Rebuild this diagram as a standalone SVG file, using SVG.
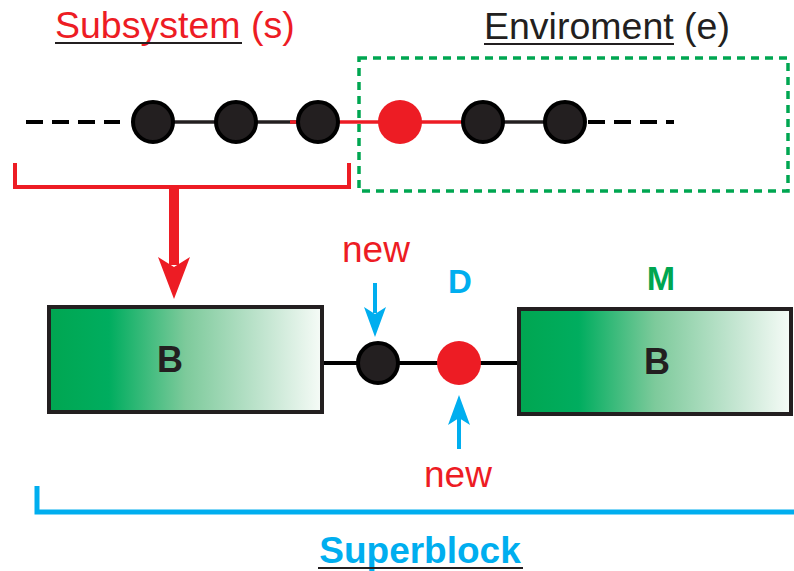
<svg xmlns="http://www.w3.org/2000/svg" width="794" height="571" viewBox="0 0 794 571">
<style>
.t{font-family:"Liberation Sans",Arial,sans-serif}
.b{font-weight:bold}
.red{fill:#ed1c24}
.dk{fill:#231f20}
.cy{fill:#00aeef}
.gr{fill:#00a651}
.node{fill:#231f20;stroke:#000;stroke-width:4}
.rnode{fill:#ed1c24}
.blk{stroke:#231f20;stroke-width:4}
</style>
<defs>
<linearGradient id="g" x1="0" y1="0" x2="1" y2="0">
<stop offset="0" stop-color="#00a651"/>
<stop offset="0.22" stop-color="#00ad5f"/>
<stop offset="0.5" stop-color="#7dca9b"/>
<stop offset="0.8" stop-color="#c5e6d2"/>
<stop offset="1" stop-color="#f6fbf7"/>
</linearGradient>
</defs>
<g id="labels">
<text class="t red" x="55" y="38" font-size="37.5">Subsystem (s)</text>
<line x1="55" y1="43" x2="242" y2="43" stroke="#231f20" stroke-width="2"/>
<text class="t dk" x="484" y="39" font-size="37.5">Enviroment (e)</text>
<line x1="484" y1="44" x2="674" y2="44" stroke="#231f20" stroke-width="2"/>
</g>
<g id="connectors" fill="none">
<line x1="26" y1="122" x2="120" y2="122" stroke="#000" stroke-width="4" stroke-dasharray="17,9"/>
<line x1="153" y1="122" x2="318" y2="122" stroke="#231f20" stroke-width="3.5"/>
<line x1="290" y1="122" x2="483" y2="122" stroke="#ed1c24" stroke-width="3.5"/>
<line x1="483" y1="122" x2="565" y2="122" stroke="#231f20" stroke-width="3.5"/>
<line x1="588" y1="122" x2="674" y2="122" stroke="#000" stroke-width="4" stroke-dasharray="17,9"/>
<rect x="359" y="58" width="429" height="133" stroke="#00a651" stroke-width="3.5" stroke-dasharray="8,6"/>
<polyline points="15,163 15,187 349,187 349,163" stroke="#ed1c24" stroke-width="4"/>
<line x1="174" y1="189" x2="174" y2="265" stroke="#ed1c24" stroke-width="10"/>
<path d="M174,299 L158,257 L174,267 L190,257 Z" fill="#ed1c24"/>
<line x1="322" y1="363" x2="519" y2="363" stroke="#000" stroke-width="4"/>
<line x1="375" y1="283" x2="375" y2="313" stroke="#00aeef" stroke-width="4"/>
<path d="M375,337 L364,307 L375,314 L386,307 Z" fill="#00aeef"/>
<line x1="459" y1="449" x2="459" y2="418" stroke="#00aeef" stroke-width="4"/>
<path d="M459,395 L448,425 L459,418 L470,425 Z" fill="#00aeef"/>
<polyline points="37,486 37,512 794,512" stroke="#00aeef" stroke-width="5"/>
</g>
<g id="n1"><circle class="node" cx="153" cy="122" r="20"/></g>
<g id="n2"><circle class="node" cx="236" cy="122" r="20"/></g>
<g id="n3"><circle class="node" cx="318" cy="122" r="20"/></g>
<g id="n4"><circle class="rnode" cx="400" cy="122" r="22"/></g>
<g id="n5"><circle class="node" cx="483" cy="122" r="20"/></g>
<g id="n6"><circle class="node" cx="565" cy="122" r="20"/></g>
<g id="blockLeft">
<rect class="blk" x="49" y="307" width="273" height="105" fill="url(#g)"/>
<text class="t b dk" x="170" y="372" font-size="36" text-anchor="middle">B</text>
</g>
<g id="newNode">
<circle class="node" cx="378" cy="363" r="20"/>
<text class="t red" x="376" y="262" font-size="37" text-anchor="middle">new</text>
</g>
<g id="dNode">
<circle class="rnode" cx="459" cy="363" r="22"/>
<text class="t b cy" x="460" y="293" font-size="33" text-anchor="middle">D</text>
<text class="t red" x="458" y="487" font-size="37" text-anchor="middle">new</text>
</g>
<g id="blockRight">
<rect class="blk" x="519" y="309" width="272" height="105" fill="url(#g)"/>
<text class="t b dk" x="657" y="374" font-size="36" text-anchor="middle">B</text>
<text class="t b gr" x="661" y="290" font-size="34" text-anchor="middle">M</text>
</g>
<g id="superblock">
<text class="t b cy" x="420" y="563" font-size="37" text-anchor="middle">Superblock</text>
<line x1="318" y1="568" x2="523" y2="568" stroke="#231f20" stroke-width="2"/>
</g>
</svg>
